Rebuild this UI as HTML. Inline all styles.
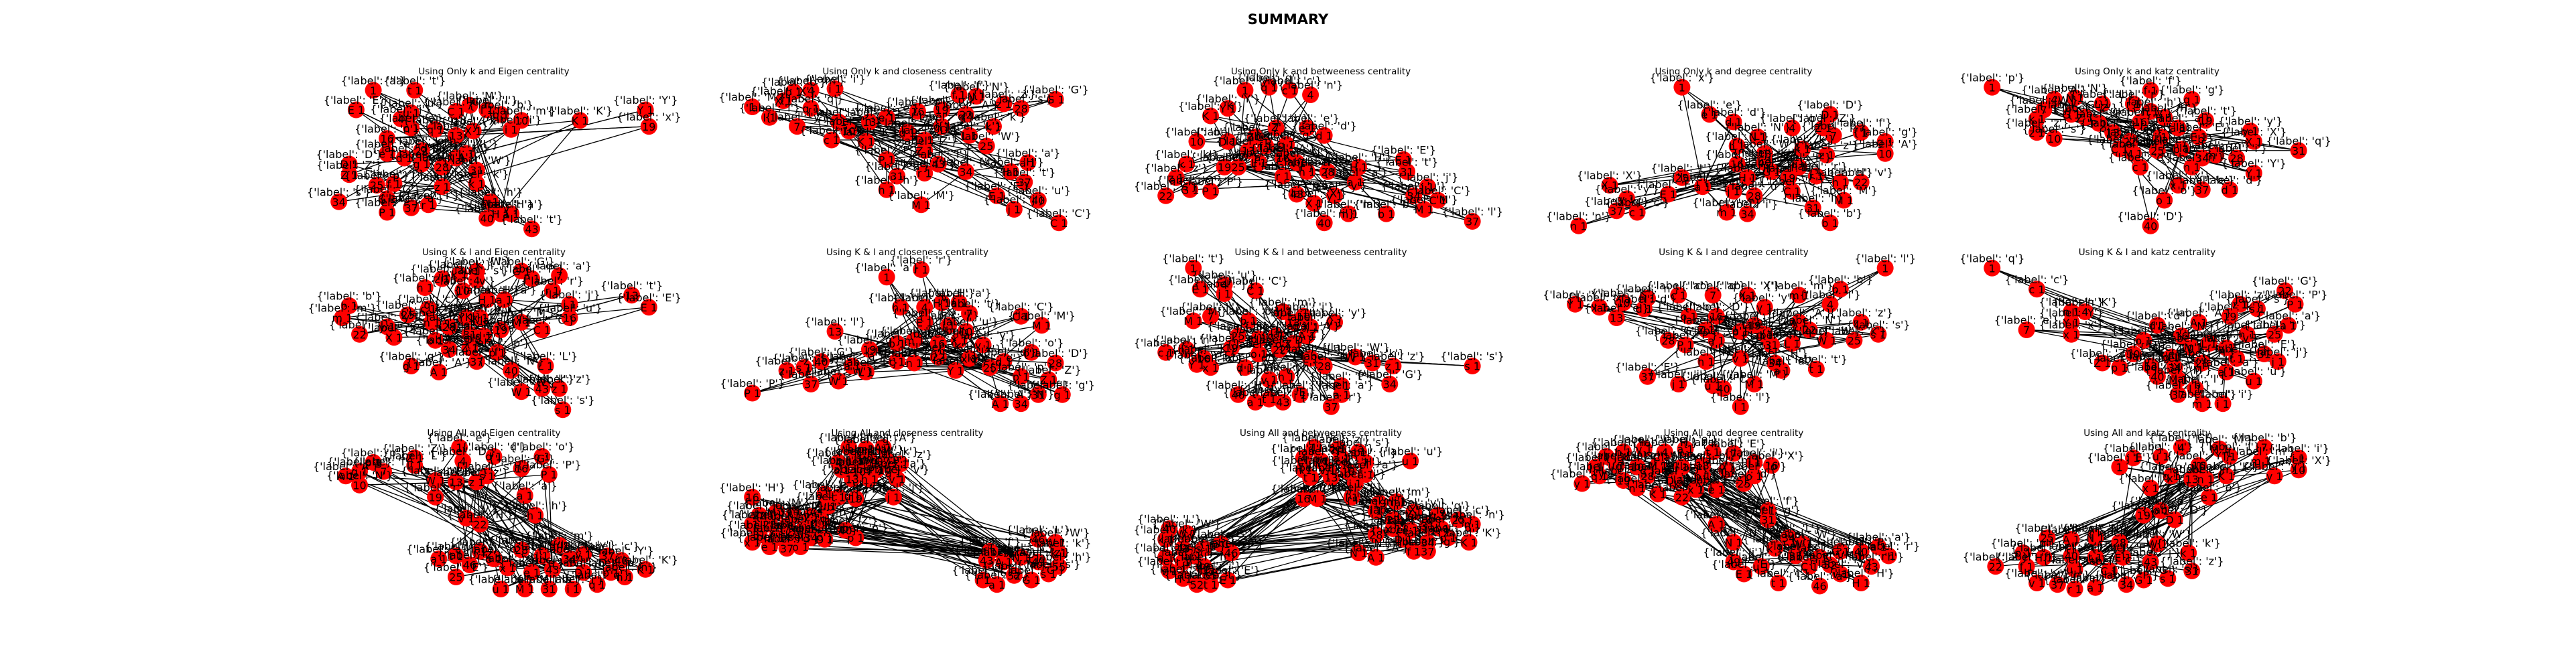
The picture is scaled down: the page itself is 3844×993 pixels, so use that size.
<!DOCTYPE html>
<html><head><meta charset="utf-8"><title>SUMMARY</title>
<style>
html,body{margin:0;padding:0;background:#fff;}
svg{display:block;}
text{font-family:"DejaVu Sans","Liberation Sans",sans-serif;}
</style></head>
<body>
<svg id="fig" width="3844" height="993" viewBox="0 0 3844 993" xmlns="http://www.w3.org/2000/svg">
<rect width="3844" height="993" fill="#fff"/>
<text x="1922" y="36" text-anchor="middle" font-size="21" font-weight="bold">SUMMARY</text>
</svg>
<script>
const titles = ["Using Only k and Eigen centrality","Using Only k and closeness centrality","Using Only k and betweeness centrality","Using Only k and degree centrality","Using Only k and katz centrality",
"Using K & l and Eigen centrality","Using K & l and closeness centrality","Using K & l and betweeness centrality","Using K & l and degree centrality","Using K & l and katz centrality",
"Using All  and Eigen centrality","Using All  and closeness centrality","Using All  and betweeness centrality","Using All  and degree centrality","Using All  and katz centrality"];
const labelChars = "aMyxpWatlqefkrEbcdgzhjmnoAsvuiKDNGHCXYZLP";

const nodes1 = [[15,7],[27,7],[10,20],[23,26],[26,22],[39,21],[43,17],[48,20],[52,23],[58,27],[55,33],[44,34],[39,37],[33,33],[26,32],[19,39],[75,27],[94,20],[95,31],[19,49],[24,52],[29,47],[8,56],[8,63],[16,70],[21,69],[29,56],[35,58],[39,52],[42,49],[45,60],[45,69],[35,71],[5,81],[19,79],[19,88],[26,85],[31,83],[49,81],[48,92],[52,89],[55,89],[61,99]];
const hubs1 = [12,11,28,32,40];
const nodes2 = [[5,18],[10,25],[17,8],[22,7],[29,6],[14,14],[18,31],[22,19],[28,40],[33,34],[38,41],[30,28],[39,28],[44,25],[50,35],[53,21],[55,40],[55,47],[60,20],[65,10],[60,31],[67,23],[70,11],[68,37],[73,44],[75,31],[78,16],[83,19],[93,13],[44,53],[47,64],[55,62],[44,73],[67,61],[80,61],[85,55],[84,68],[76,77],[81,86],[88,80],[94,95],[54,83],[59,56]];
const hubs2 = [20,16,29,23,11,33];
const nodes3 = [[28,7],[35,5],[41,7],[47,10],[18,24],[23,19],[37,32],[46,32],[51,37],[14,41],[23,41],[31,38],[29,47],[34,44],[40,43],[39,52],[43,55],[32,55],[22,58],[11,56],[8,65],[5,77],[12,73],[18,74],[26,58],[39,64],[46,61],[52,61],[61,58],[60,68],[75,61],[74,53],[81,71],[77,77],[84,80],[80,86],[94,94],[69,89],[58,89],[51,95],[48,82],[54,77],[43,76]];
const hubs3 = [13,24,29,14,6];
const nodes4 = [[35,5],[43,23],[50,28],[67,32],[78,23],[76,32],[79,37],[87,35],[94,41],[94,49],[57,38],[51,44],[59,49],[70,46],[77,50],[51,56],[61,61],[69,58],[66,65],[74,64],[81,68],[87,68],[54,65],[41,71],[35,65],[31,76],[50,74],[56,77],[67,74],[82,80],[73,85],[78,95],[48,88],[54,89],[14,70],[19,79],[16,87],[22,88],[5,97],[59,55]];
const hubs4 = [17,16,23,13,39];
const nodes5 = [[5,5],[51,7],[63,13],[23,13],[29,12],[37,16],[20,20],[18,26],[18,35],[23,39],[28,23],[36,29],[40,35],[46,16],[51,21],[48,28],[55,25],[59,32],[67,27],[65,38],[54,38],[45,41],[42,46],[46,49],[53,47],[60,46],[70,50],[76,52],[81,41],[80,34],[94,47],[48,58],[63,58],[66,52],[81,62],[59,70],[66,73],[74,73],[55,80],[51,97],[32,25]];
const hubs5 = [11,24,15,25,21];
const nodes6 = [[45,7],[40,9],[35,12],[45,13],[58,7],[61,12],[69,10],[67,20],[30,18],[41,20],[48,26],[53,26],[90,23],[95,31],[72,29],[72,38],[64,46],[58,41],[52,46],[8,30],[6,38],[11,49],[21,51],[19,44],[25,36],[31,32],[32,41],[37,44],[42,38],[46,38],[43,49],[47,50],[33,53],[37,59],[43,58],[51,61],[45,67],[26,70],[34,74],[55,73],[65,70],[58,87],[64,85],[69,85],[70,99]];
const hubs6 = [27,11,31,35,26];
const nodes7 = [[44,11],[54,6],[48,31],[55,31],[60,28],[65,28],[68,35],[55,41],[62,43],[67,47],[83,37],[89,43],[29,47],[47,55],[52,53],[59,55],[65,53],[72,56],[39,59],[47,67],[52,68],[59,64],[64,73],[68,65],[74,71],[78,67],[86,61],[93,68],[91,79],[83,77],[88,89],[95,89],[77,95],[83,95],[38,74],[30,80],[22,82],[15,73],[20,71],[25,67],[5,88],[34,70]];
const hubs7 = [14,15,21,18,24];
const nodes8 = [[13,5],[15,19],[22,22],[22,16],[31,20],[13,40],[18,37],[29,40],[39,34],[45,37],[47,44],[54,41],[42,41],[5,61],[11,59],[16,65],[14,69],[18,71],[24,58],[28,71],[32,62],[38,59],[42,55],[32,52],[26,50],[37,50],[46,50],[51,70],[47,65],[60,64],[65,68],[71,70],[94,70],[70,82],[56,83],[56,89],[53,97],[40,77],[35,79],[26,89],[31,94],[35,92],[39,94],[44,89]];
const hubs8 = [23,25,20,22,28];
const nodes9 = [[94,5],[81,19],[69,23],[78,29],[54,23],[59,31],[44,23],[34,23],[25,25],[18,28],[4,29],[11,31],[16,38],[24,32],[37,37],[45,37],[42,46],[52,47],[56,43],[59,49],[69,41],[72,46],[67,55],[77,53],[85,53],[87,41],[92,49],[31,53],[36,56],[45,53],[61,56],[42,67],[52,65],[62,68],[64,73],[74,72],[25,77],[34,82],[44,83],[47,85],[56,82],[52,97]];
const hubs9 = [17,19,30,15,32];
const nodes10 = [[5,5],[18,19],[28,34],[32,34],[28,41],[28,49],[15,46],[53,43],[49,53],[46,62],[37,68],[42,71],[51,70],[57,64],[65,41],[60,50],[68,55],[63,58],[74,37],[77,29],[82,32],[90,20],[93,29],[91,43],[87,49],[79,49],[73,58],[66,68],[73,74],[76,65],[84,62],[88,67],[81,80],[58,71],[59,79],[64,85],[59,89],[66,95],[72,95],[53,77]];
const hubs10 = [8,15,17,26,13];
const nodes11 = [[40,4],[50,10],[64,10],[41,13],[27,11],[15,14],[18,20],[11,20],[7,23],[11,29],[27,16],[33,26],[39,27],[45,27],[48,23],[58,18],[66,22],[59,36],[33,37],[62,49],[42,51],[46,55],[34,78],[39,76],[39,90],[46,73],[52,98],[58,72],[59,98],[64,76],[66,98],[69,69],[73,98],[72,78],[76,75],[80,95],[83,76],[88,90],[94,85],[87,79],[54,84],[61,87],[67,85],[50,78],[76,87],[43,82],[84,87]];
const hubs11 = [12,13,11,20,21,19,40,42,33];
const nodes12 = [[33,4],[38,5],[43,4],[30,14],[35,13],[39,12],[44,13],[48,15],[31,19],[36,20],[41,19],[46,21],[34,25],[39,25],[47,25],[5,37],[26,35],[30,37],[35,38],[46,37],[27,43],[7,49],[12,47],[17,49],[22,50],[25,53],[5,55],[10,55],[15,56],[20,58],[7,62],[12,64],[17,62],[22,64],[5,67],[10,70],[15,71],[19,70],[26,65],[32,59],[35,64],[74,73],[73,79],[78,80],[83,77],[88,65],[93,67],[94,74],[88,80],[91,88],[86,92],[81,89],[76,95],[72,92],[94,83]];
const hubs12 = [17,13,24,28,44,19,41,39];
const nodes13 = [[48,4],[55,5],[61,7],[45,11],[50,13],[56,11],[63,14],[45,19],[52,19],[58,20],[63,22],[47,24],[53,24],[60,28],[76,13],[45,38],[49,38],[59,37],[67,41],[72,40],[66,46],[71,52],[77,47],[84,49],[90,52],[94,55],[93,67],[66,62],[71,58],[76,59],[81,56],[85,58],[74,65],[81,67],[87,64],[77,73],[81,73],[66,77],[61,74],[6,58],[11,61],[5,65],[10,71],[16,71],[21,68],[24,74],[5,77],[10,80],[16,83],[6,86],[10,91],[14,95],[18,95],[23,92],[18,89],[13,76]];
const hubs13 = [8,12,15,16,29,33,43,55];
const nodes14 = [[13,10],[18,7],[24,5],[30,7],[36,5],[44,7],[50,8],[10,17],[16,16],[22,17],[28,16],[35,17],[41,16],[48,19],[56,14],[61,16],[6,28],[11,23],[18,26],[22,31],[28,35],[35,37],[39,32],[45,32],[53,28],[56,23],[33,26],[25,23],[41,23],[60,46],[60,52],[45,55],[50,67],[66,64],[70,68],[62,71],[68,76],[75,77],[81,73],[87,73],[92,70],[95,76],[90,83],[81,88],[87,94],[75,96],[63,94],[53,88],[50,80],[58,83],[72,83],[78,82]];
const hubs14 = [10,11,26,22,29,34,36,48];
const nodes15 = [[42,17],[46,11],[54,10],[60,4],[71,5],[74,10],[84,4],[83,13],[94,11],[94,19],[87,23],[57,23],[63,25],[67,25],[73,23],[65,16],[51,31],[68,37],[49,49],[54,46],[58,52],[6,83],[14,74],[15,83],[21,64],[28,65],[35,64],[42,67],[53,68],[62,74],[63,86],[56,91],[49,92],[44,95],[35,97],[29,98],[24,95],[18,94],[20,77],[28,76],[35,77],[43,77],[51,80],[29,85],[39,86]];
const hubs15 = [12,13,19,18,27,40,39,42];

const allNodes = [nodes1,nodes2,nodes3,nodes4,nodes5,nodes6,nodes7,nodes8,nodes9,nodes10,nodes11,nodes12,nodes13,nodes14,nodes15];
const allHubs = [hubs1,hubs2,hubs3,hubs4,hubs5,hubs6,hubs7,hubs8,hubs9,hubs10,hubs11,hubs12,hubs13,hubs14,hubs15];

const NS = "http://www.w3.org/2000/svg";
const svg = document.getElementById('fig');
const axLeft = [480,1097,1714,2330,2947], axTop = [119,389,659], axW = 514, axH = 225;
function mk(tag, attrs, parent){const e=document.createElementNS(NS,tag);for(const k in attrs)e.setAttribute(k,attrs[k]);parent.appendChild(e);return e;}

allNodes.forEach((nodes, g) => {
  const col = g % 5, row = Math.floor(g / 5);
  const x0 = axLeft[col], y0 = axTop[row];
  const sx = v => x0 + v / 100 * axW;
  const sy = v => y0 + v / 100 * axH;
  const grp = mk('g', {}, svg);
  
  
  const t = mk('text', {x: x0 + axW / 2, y: y0 - 8, 'text-anchor': 'middle', 'font-size': 13.5}, grp);
  
  
  t.textContent = titles[g];
  const hubs = allHubs[g];
  const eg = mk('g', {stroke: '#000', 'stroke-width': 1.3}, grp);
  
  
  nodes.forEach((p, i) => {
    const targets = [hubs[i % hubs.length], hubs[(i * 3 + 1) % hubs.length]];
    if (i % 2 === 0) targets.push(hubs[(i + 2) % hubs.length]);
    targets.forEach(h => {
      if (h === i || !nodes[h]) return;
      const q = nodes[h];
      const l = mk('line', {x1: sx(p[0]), y1: sy(p[1]), x2: sx(q[0]), y2: sy(q[1])}, eg);
      
      
    });
  });
  const ng = mk('g', {}, grp);
  
  
  nodes.forEach((p, i) => {
    const c = mk('circle', {cx: sx(p[0]), cy: sy(p[1]), r: 12.5, fill: '#ff0000'}, ng);
    
    
  });
  const lg = mk('g', {'font-size': 16, fill: '#000'}, grp);
  
  
  nodes.forEach((p, i) => {
    const ch = labelChars[(i * 7 + g) % labelChars.length];
    const a = mk('text', {x: sx(p[0]), y: sy(p[1]) - 9, 'text-anchor': 'middle'}, lg);
    
    
    a.textContent = "{'label': '" + ch + "'}";
    const b = mk('text', {x: sx(p[0]), y: sy(p[1]) + 6, 'text-anchor': 'middle'}, lg);
    
    
    b.textContent = (i % 3 === 0) ? String(i + 1) : ch + " 1";
  });
});
</script>
</body></html>
